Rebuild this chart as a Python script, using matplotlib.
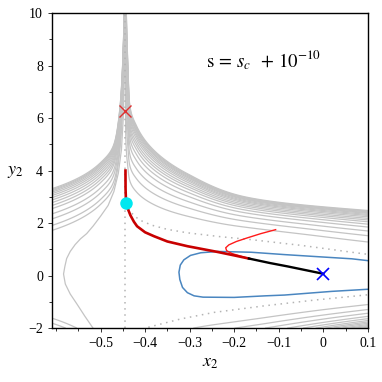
import numpy as np
import matplotlib
matplotlib.use("Agg")
import matplotlib.pyplot as plt
from matplotlib.ticker import MultipleLocator

plt.rcParams['font.family'] = ['Liberation Serif', 'DejaVu Serif']
plt.rcParams['mathtext.fontset'] = 'stix'

## values
x_sing = -0.444                      # singular line (vertical dotted)

# upper / lower dotted separatrix
dot_up_x = [-0.444, -0.435, -0.425, -0.41, -0.385, -0.35, -0.305, -0.23, -0.162, -0.049, 0.064, 0.1]
dot_up_y = [2.77, 2.5, 2.28, 2.1, 1.92, 1.76, 1.63, 1.48, 1.37, 1.15, 0.89, 0.81]
dot_lo_x = [-0.444, -0.40, -0.38, -0.32, -0.245, -0.132, -0.019, 0.1]
dot_lo_y = [-2.3, -2.0, -1.91, -1.65, -1.40, -1.15, -0.93, -0.73]

# outer gray curve of the right bundle (upper) and its lower counterpart
top_r_x = [-0.44399, -0.4435, -0.442, -0.439, -0.435, -0.418, -0.38, -0.305, -0.173, 0.1]
top_r_y = [40.0, 12.5, 10.0, 8.2, 6.6, 5.66, 4.77, 3.88, 2.99, 2.48]
bot_r_x = [-0.4435, -0.384, -0.305, -0.214, -0.147, -0.088, 0.1]
bot_r_y = [-12.0, -4.0, -3.2, -3.0, -2.8, -2.6, -2.05]

# gray curves on the right: where they cross x = 0.1 (upper side)
right_cross_y = [1.28, 1.52, 1.70, 1.85, 1.96, 2.05, 2.12, 2.18, 2.24, 2.29, 2.33, 2.37, 2.40, 2.43, 2.455, 2.48]

# left side: outer curve of the left bundle, crossings at x = -0.609
top_l_x = [-0.609, -0.5, -0.47, -0.457, -0.45, -0.447, -0.4441]
top_l_y = [3.31, 4.3, 5.0, 6.3, 8.2, 10.0, 20.0]
left_cross_y = [1.72, 1.91, 2.16, 2.35, 2.55, 2.67, 2.78, 2.88, 2.97, 3.05, 3.12, 3.18, 3.23, 3.27, 3.31]
m_left = 0.05

# C shaped gray curve on the left
c_x = [-0.516, -0.535, -0.553, -0.568, -0.579, -0.583, -0.58, -0.576, -0.568, -0.557, -0.545,
       -0.531, -0.516, -0.5, -0.483, -0.47, -0.46, -0.453, -0.449, -0.4465, -0.4455]
c_y = [-2.02, -1.55, -1.08, -0.7, -0.32, 0.06, 0.35, 0.65, 0.92, 1.18, 1.4,
       1.6, 1.9, 2.26, 2.67, 3.2, 3.9, 4.8, 6.0, 7.6, 10.0]

# blue loop
blue_x = [0.1, 0.064, -0.012, -0.087, -0.162, -0.237, -0.275, -0.298, -0.313, -0.321, -0.324, -0.322,
          -0.316, -0.305, -0.29, -0.27, -0.2, -0.13, -0.087, 0.019, 0.1]
blue_y = [0.57, 0.64, 0.72, 0.80, 0.89, 0.92, 0.87, 0.77, 0.6, 0.4, 0.13, -0.15,
          -0.45, -0.65, -0.77, -0.82, -0.83, -0.77, -0.74, -0.60, -0.52]

# trajectories
dred_x = [-0.444, -0.4438, -0.443, -0.44, -0.433, -0.425, -0.418, -0.40, -0.38, -0.35, -0.305, -0.237, -0.2, -0.167]
dred_y = [4.0, 3.3, 2.9, 2.6, 2.3, 2.05, 1.88, 1.65, 1.50, 1.30, 1.12, 0.90, 0.77, 0.65]
red_x = [-0.167, -0.185, -0.205, -0.217, -0.219, -0.212, -0.195, -0.17, -0.14, -0.107]
red_y = [0.65, 0.74, 0.84, 0.95, 1.06, 1.17, 1.30, 1.44, 1.60, 1.75]
black_x = [-0.167, -0.12, -0.08, -0.04, 0.0]
black_y = [0.65, 0.48, 0.35, 0.21, 0.07]

cross_red = (-0.446, 6.27)
cross_blue = (0.0, 0.06)
cyan_pt = (-0.443, 2.77)


def pchip(xk, yk, x):
    # monotone cubic through read points, keeps the contour field smooth
    xk = np.asarray(xk, float)
    yk = np.asarray(yk, float)
    h = np.diff(xk)
    d = np.diff(yk) / h
    m = np.zeros_like(yk)
    m[0], m[-1] = d[0], d[-1]
    for k in range(1, len(xk) - 1):
        if d[k - 1] * d[k] > 0:
            w1 = 2 * h[k] + h[k - 1]
            w2 = h[k] + 2 * h[k - 1]
            m[k] = (w1 + w2) / (w1 / d[k - 1] + w2 / d[k])
    x = np.clip(x, xk[0], xk[-1])
    i = np.clip(np.searchsorted(xk, x) - 1, 0, len(xk) - 2)
    t = (x - xk[i]) / h[i]
    return ((2*t**3 - 3*t**2 + 1) * yk[i] + (t**3 - 2*t**2 + t) * h[i] * m[i]
            + (-2*t**3 + 3*t**2) * yk[i + 1] + (t**3 - t**2) * h[i] * m[i + 1])


fig = plt.figure(figsize=(3.82, 3.82), dpi=100)
ax = fig.add_axes([0.136, 0.141, 0.827, 0.825])

gray = '#c4c4c4'
yy = np.linspace(-2.0, 10.0, 900)

## right side: gray curves sit between the dotted curve and the outer curve
xr = x_sing + np.geomspace(2e-5, 0.544, 700)
XR, YR = np.meshgrid(xr, yy)
P = pchip(dot_up_x, dot_up_y, XR)
Q = pchip(dot_lo_x, dot_lo_y, XR)
lu = np.log(XR - x_sing)
T = pchip(np.log(np.array(top_r_x) - x_sing), top_r_y, lu)
B = pchip(np.log(np.array(bot_r_x) - x_sing), bot_r_y, lu)
M = (P + Q) / 2
HR = np.where(YR >= M, (YR - P) / (T - P), (Q - YR) / (Q - B))
p0 = dot_up_y[-1]
t0 = top_r_y[-1]
lev_r = sorted(set((np.array(right_cross_y) - p0) / (t0 - p0)))
ax.contour(XR, YR, HR, levels=lev_r, colors=gray, linewidths=0.9, linestyles='solid')

## left side: curves follow the outer curve shifted down
xl = x_sing - np.geomspace(2e-5, 0.165, 500)[::-1]
XL, YL = np.meshgrid(xl, yy)
ytl = pchip(np.log(x_sing - np.array(top_l_x))[::-1], top_l_y[::-1], np.log(x_sing - XL))
HL = np.abs(YL - m_left) - (ytl - m_left)
lev_l = sorted(set(np.array(left_cross_y) - top_l_y[0]))
ax.contour(XL, YL, HL, levels=lev_l, colors=gray, linewidths=0.9, linestyles='solid')
ax.plot(c_x, c_y, color=gray, lw=0.9)

## dotted separatrices
dot_kw = dict(color='#b4b4b4', lw=1.1, ls=(0, (1, 3)))
ax.plot([x_sing, x_sing], [-2, 10], **dot_kw)
ax.plot(dot_up_x, dot_up_y, **dot_kw)
ax.plot(dot_lo_x, dot_lo_y, **dot_kw)

ax.plot(blue_x, blue_y, color='#4a86c0', lw=1.1)
ax.plot(red_x, red_y, color='#ff1a1a', lw=1.0)
ax.plot(dred_x, dred_y, color='#c80000', lw=1.9)
ax.plot(black_x, black_y, color='black', lw=1.7)

ax.plot(*cross_red, marker='x', color='#e03030', ms=8, mew=1.0)
ax.plot(*cross_blue, marker='x', color='#0000ff', ms=9, mew=1.2)
ax.plot(*cyan_pt, marker='o', color='#00e8f0', ms=9, mec='none')

ax.text(-0.135, 8.2, r'$\mathrm{s}\, =\, s_{c}\;\; + \,10^{-10}$', fontsize=13.5,
        ha='center', va='center')

ax.set_xlim(-0.609, 0.1)
ax.set_ylim(-2, 10)
ax.xaxis.set_minor_locator(MultipleLocator(0.05))
ax.yaxis.set_minor_locator(MultipleLocator(1))
ax.set_xticks([-0.5, -0.4, -0.3, -0.2, -0.1, 0, 0.1])
ax.set_xticklabels(['\u22120.5', '\u22120.4', '\u22120.3', '\u22120.2', '\u22120.1', '0', '0.1'])
ax.set_yticks([-2, 0, 2, 4, 6, 8, 10])
ax.set_yticklabels(['\u22122', '0', '2', '4', '6', '8', '10'])
ax.tick_params(which='both', direction='out', labelsize=10, width=0.7, colors='#333333', labelcolor='black')
ax.tick_params(which='major', length=3)
ax.tick_params(which='minor', length=2)
for s in ax.spines.values():
    s.set_linewidth(1.0)

ax.set_xlabel(r'$x_2$', fontsize=13, labelpad=3)
ax.set_ylabel(r'$y_2$', fontsize=13, rotation=0)
ax.yaxis.set_label_coords(-0.115, 0.47)

fig.savefig('out.png', dpi=100)
